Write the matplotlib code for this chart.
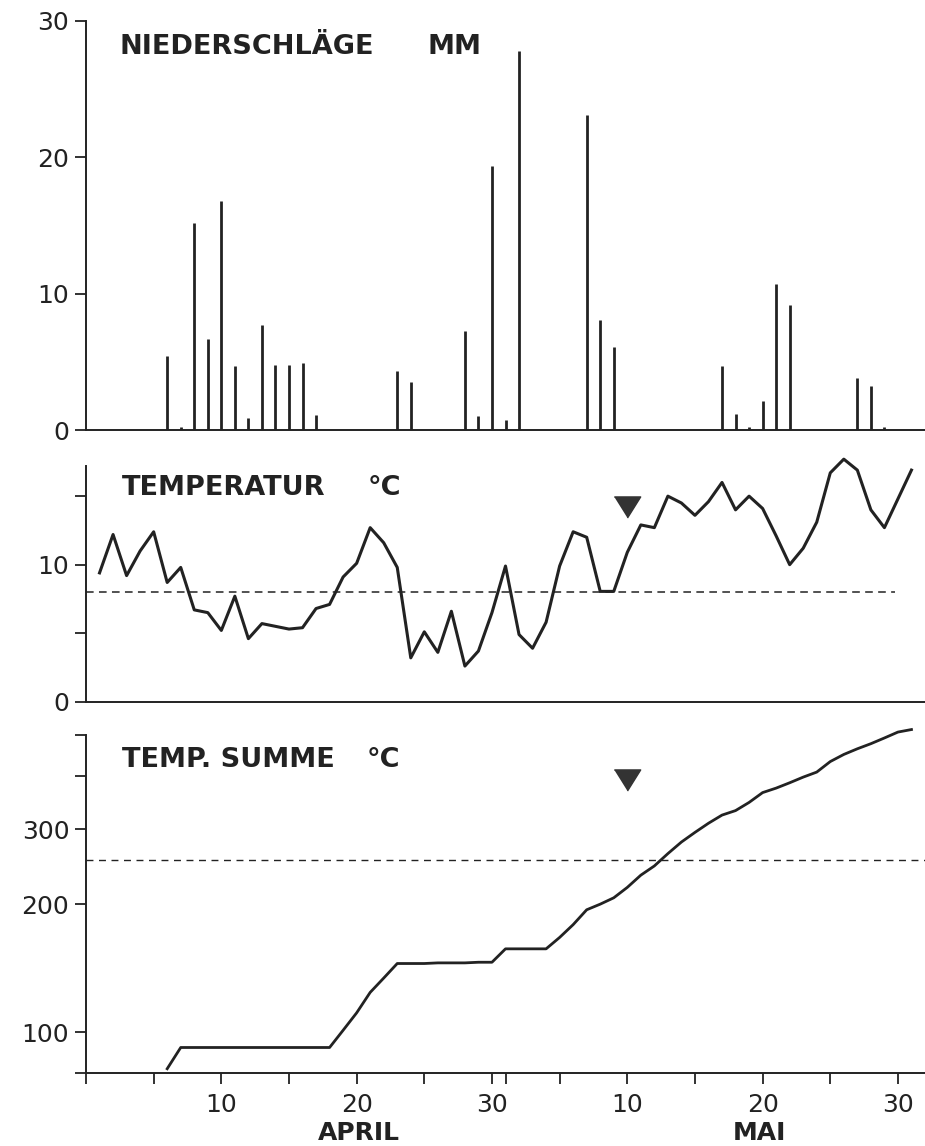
import matplotlib
matplotlib.use('Agg')
import matplotlib.pyplot as plt
from matplotlib.ticker import NullLocator

plt.rcParams['font.family'] = ['DejaVu Sans']

# day index: April n -> n, May n -> 30 + n
precip_days = [6, 7, 8, 9, 10, 11, 12, 13, 14, 15, 16, 17, 23, 24, 28, 29, 30,
               31, 32, 37, 38, 39, 47, 48, 49, 50, 51, 52, 57, 58, 59]
precip_mm = [5.4, 0.2, 15.2, 6.7, 16.8, 4.7, 0.9, 7.7, 4.8, 4.8, 4.9, 1.1, 4.35, 3.55, 7.25, 1.0, 19.4,
             0.7, 27.8, 23.1, 8.1, 6.1, 4.7, 1.2, 0.2, 2.15, 10.7, 9.2, 3.8, 3.25, 0.2]

temp_days = list(range(1, 62))
temp_c = [9.4, 12.2, 9.2, 11.0, 12.4, 8.7, 9.8, 6.7, 6.5, 5.2,
          7.7, 4.6, 5.7, 5.5, 5.3, 5.4, 6.8, 7.1, 9.1, 10.1,
          12.7, 11.6, 9.8, 3.2, 5.1, 3.6, 6.6, 2.6, 3.7, 6.5,
          9.9, 4.9, 3.9, 5.8, 9.9, 12.4, 12.0, 8.05, 8.05, 10.9,
          12.9, 12.7, 15.0, 14.5, 13.6, 14.6, 16.0, 14.0, 15.0, 14.1,
          12.1, 10.0, 11.2, 13.1, 16.7, 17.7, 16.9, 14.0, 12.7, 14.8, 16.9]
temp_threshold = 8.0

sum_days = list(range(6, 62))
temp_sum = [82, 92, 92, 92, 92, 92, 92, 92, 92, 92, 92, 92, 92,
            101, 111, 124, 134, 145, 145, 145, 145.5, 145.5, 145.5, 146, 146,
            157, 157, 157, 157, 167, 179, 194, 200, 207, 219,
            234, 246, 263, 280, 295, 310, 324, 332, 347, 366,
            375, 386, 398, 409, 433, 450, 464, 477, 492, 508, 515]
sum_threshold = 254

marker_day = 40  # 10. Mai
marker_temp = 14.2
marker_sum = 392

x_ticks = [0, 5, 10, 15, 20, 25, 30, 31, 35, 40, 45, 50, 55, 60]
x_labels = ['', '', '10', '', '20', '', '30', '', '', '10', '', '20', '', '30']

ink = '#222222'
W, H = 925, 1146
fig = plt.figure(figsize=(W / 100, H / 100), dpi=100)


def px_axes(top, bottom):
    left = 86
    return fig.add_axes([left / W, 1 - bottom / H, (W - left) / W, (bottom - top) / H])


def px_text(x, y, s):
    fig.text(x / W, 1 - y / H, s, fontsize=19.5, fontweight='bold',
             color=ink, va='center', ha='left')


ax1 = px_axes(21, 430)
ax2 = px_axes(466, 701.7)
ax3 = px_axes(735, 1073.3)

for ax in (ax1, ax2, ax3):
    ax.set_xlim(0, 62)
    for s in ('top', 'right'):
        ax.spines[s].set_visible(False)
    for s in ('left', 'bottom'):
        ax.spines[s].set_linewidth(1.4)
        ax.spines[s].set_color(ink)
    ax.tick_params(axis='y', direction='out', length=8, width=1.3, colors=ink,
                   labelsize=18, pad=4)
    ax.set_facecolor('none')

# precipitation
ax1.vlines(precip_days, 0, precip_mm, color=ink, linewidth=2.0)
ax1.set_ylim(0, 30)
ax1.set_yticks([0, 10, 20, 30])
ax1.set_xticks([])
px_text(120, 47, 'NIEDERSCHLÄGE')
px_text(428, 47, 'MM')

# temperature
ax2.plot(temp_days, temp_c, color=ink, linewidth=2.2, clip_on=False)
ax2.axhline(temp_threshold, xmax=(59.8 / 62), color=ink, linewidth=1.1, dashes=(5, 3.5))
ax2.plot([marker_day], [marker_temp], linestyle='none', color='#333333',
         marker=[(-1, 0.8), (1, 0.8), (0, -0.8)], markersize=19)
ax2.set_ylim(0, 17.2)
ax2.set_yticks([0, 5, 10, 15])
ax2.set_yticklabels(['0', '', '10', ''])
ax2.set_xticks([])
px_text(122, 488, 'TEMPERATUR')
px_text(368, 488, '°C')

# temperature sum (log scale)
ax3.plot(sum_days, temp_sum, color=ink, linewidth=2.0, clip_on=False)
ax3.axhline(sum_threshold, color=ink, linewidth=1.0, dashes=(5, 4))
ax3.plot([marker_day], [marker_sum], linestyle='none', color='#333333',
         marker=[(-1, 0.8), (1, 0.8), (0, -0.8)], markersize=19)
ax3.set_yscale('log')
ax3.set_ylim(80, 500)
ax3.yaxis.set_minor_locator(NullLocator())
ax3.set_yticks([80, 100, 200, 300, 400, 500])
ax3.set_yticklabels(['', '100', '200', '300', '', ''])
ax3.set_xticks(x_ticks)
ax3.set_xticklabels(x_labels)
ax3.tick_params(axis='x', direction='out', length=8, width=1.3, colors=ink,
                labelsize=18, pad=6)
px_text(122, 760, 'TEMP. SUMME')
px_text(367, 760, '°C')

for t, lbl in ((20.2, 'APRIL'), (49.8, 'MAI')):
    ax3.text(t, -0.175, lbl, transform=ax3.get_xaxis_transform(), fontsize=18,
             fontweight='bold', color=ink, ha='center', va='center')

fig.savefig('out.png', dpi=100)
